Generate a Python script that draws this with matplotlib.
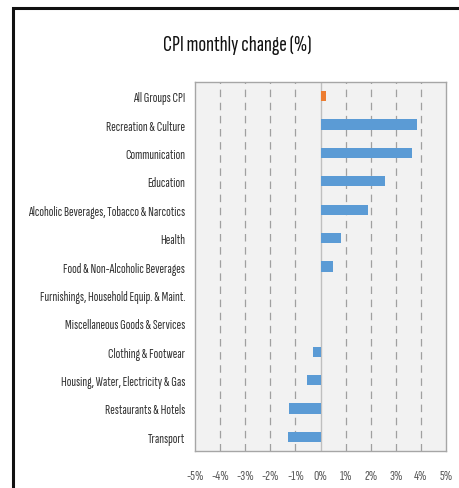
import matplotlib
matplotlib.use("Agg")
import matplotlib.pyplot as plt
from matplotlib.patches import Rectangle

# categories top to bottom, and monthly change in percent
categories = [
    "All Groups CPI",
    "Recreation & Culture",
    "Communication",
    "Education",
    "Alcoholic Beverages, Tobacco & Narcotics",
    "Health",
    "Food & Non-Alcoholic Beverages",
    "Furnishings, Household Equip. & Maint.",
    "Miscellaneous Goods & Services",
    "Clothing & Footwear",
    "Housing, Water, Electricity & Gas",
    "Restaurants & Hotels",
    "Transport",
]
changes = [0.23, 3.84, 3.63, 2.56, 1.89, 0.80, 0.48, 0.02, 0.0, -0.28, -0.55, -1.27, -1.30]
bar_colors = ["#ed7d31"] + ["#5b9bd5"] * (len(categories) - 1)

x_ticks = [-5, -4, -3, -2, -1, 0, 1, 2, 3, 4, 5]
x_tick_labels = [f"{t}%" for t in x_ticks]

# condensed sans for the narrow office-chart lettering
plt.rcParams["font.family"] = ["Sofia Sans Extra Condensed", "DejaVu Sans"]

fig = plt.figure(figsize=(4.59, 4.89), dpi=100)
fig.patch.set_facecolor("white")

# black frame around the chart, running off the right and bottom edges
frame = Rectangle((13 / 459, -0.1), 1.2, 1 - 9 / 489 + 0.1, transform=fig.transFigure,
                  fill=False, edgecolor="#111111", linewidth=2.2, clip_on=False)
fig.patches.append(frame)

ax = fig.add_axes([195 / 459, 1 - 452 / 489, 251 / 459, 369 / 489])
ax.set_facecolor("#f2f2f2")

y = list(range(len(categories)))
ax.barh(y, changes, height=0.36, color=bar_colors, zorder=3)

# dashed vertical gridlines, solid line at zero
for t in x_ticks[1:-1]:
    if t == 0:
        continue
    ax.axvline(t, color="#a0a0a0", linewidth=0.9, linestyle=(0, (6, 4.5)), zorder=1)
ax.axvline(0, color="#bfbfbf", linewidth=1.0, zorder=2)

ax.set_xlim(-5, 5)
ax.set_ylim(len(categories) - 0.5, -0.5)
ax.set_yticks(y)
ax.set_yticklabels(categories, fontsize=10, fontweight="light", color="#333333")
ax.set_xticks(x_ticks)
ax.set_xticklabels(x_tick_labels, fontsize=10.5, fontweight="light", color="#595959")
ax.tick_params(axis="both", length=0)
ax.tick_params(axis="y", pad=7)
ax.tick_params(axis="x", pad=13)

for spine in ax.spines.values():
    spine.set_edgecolor("#a6a6a6")
    spine.set_linewidth(1.0)

fig.text(237 / 459, 1 - 45 / 489, "CPI monthly change (%)", ha="center", va="center",
         fontsize=16.5, color="#111111")

fig.savefig("out.png", dpi=100, facecolor="white")
